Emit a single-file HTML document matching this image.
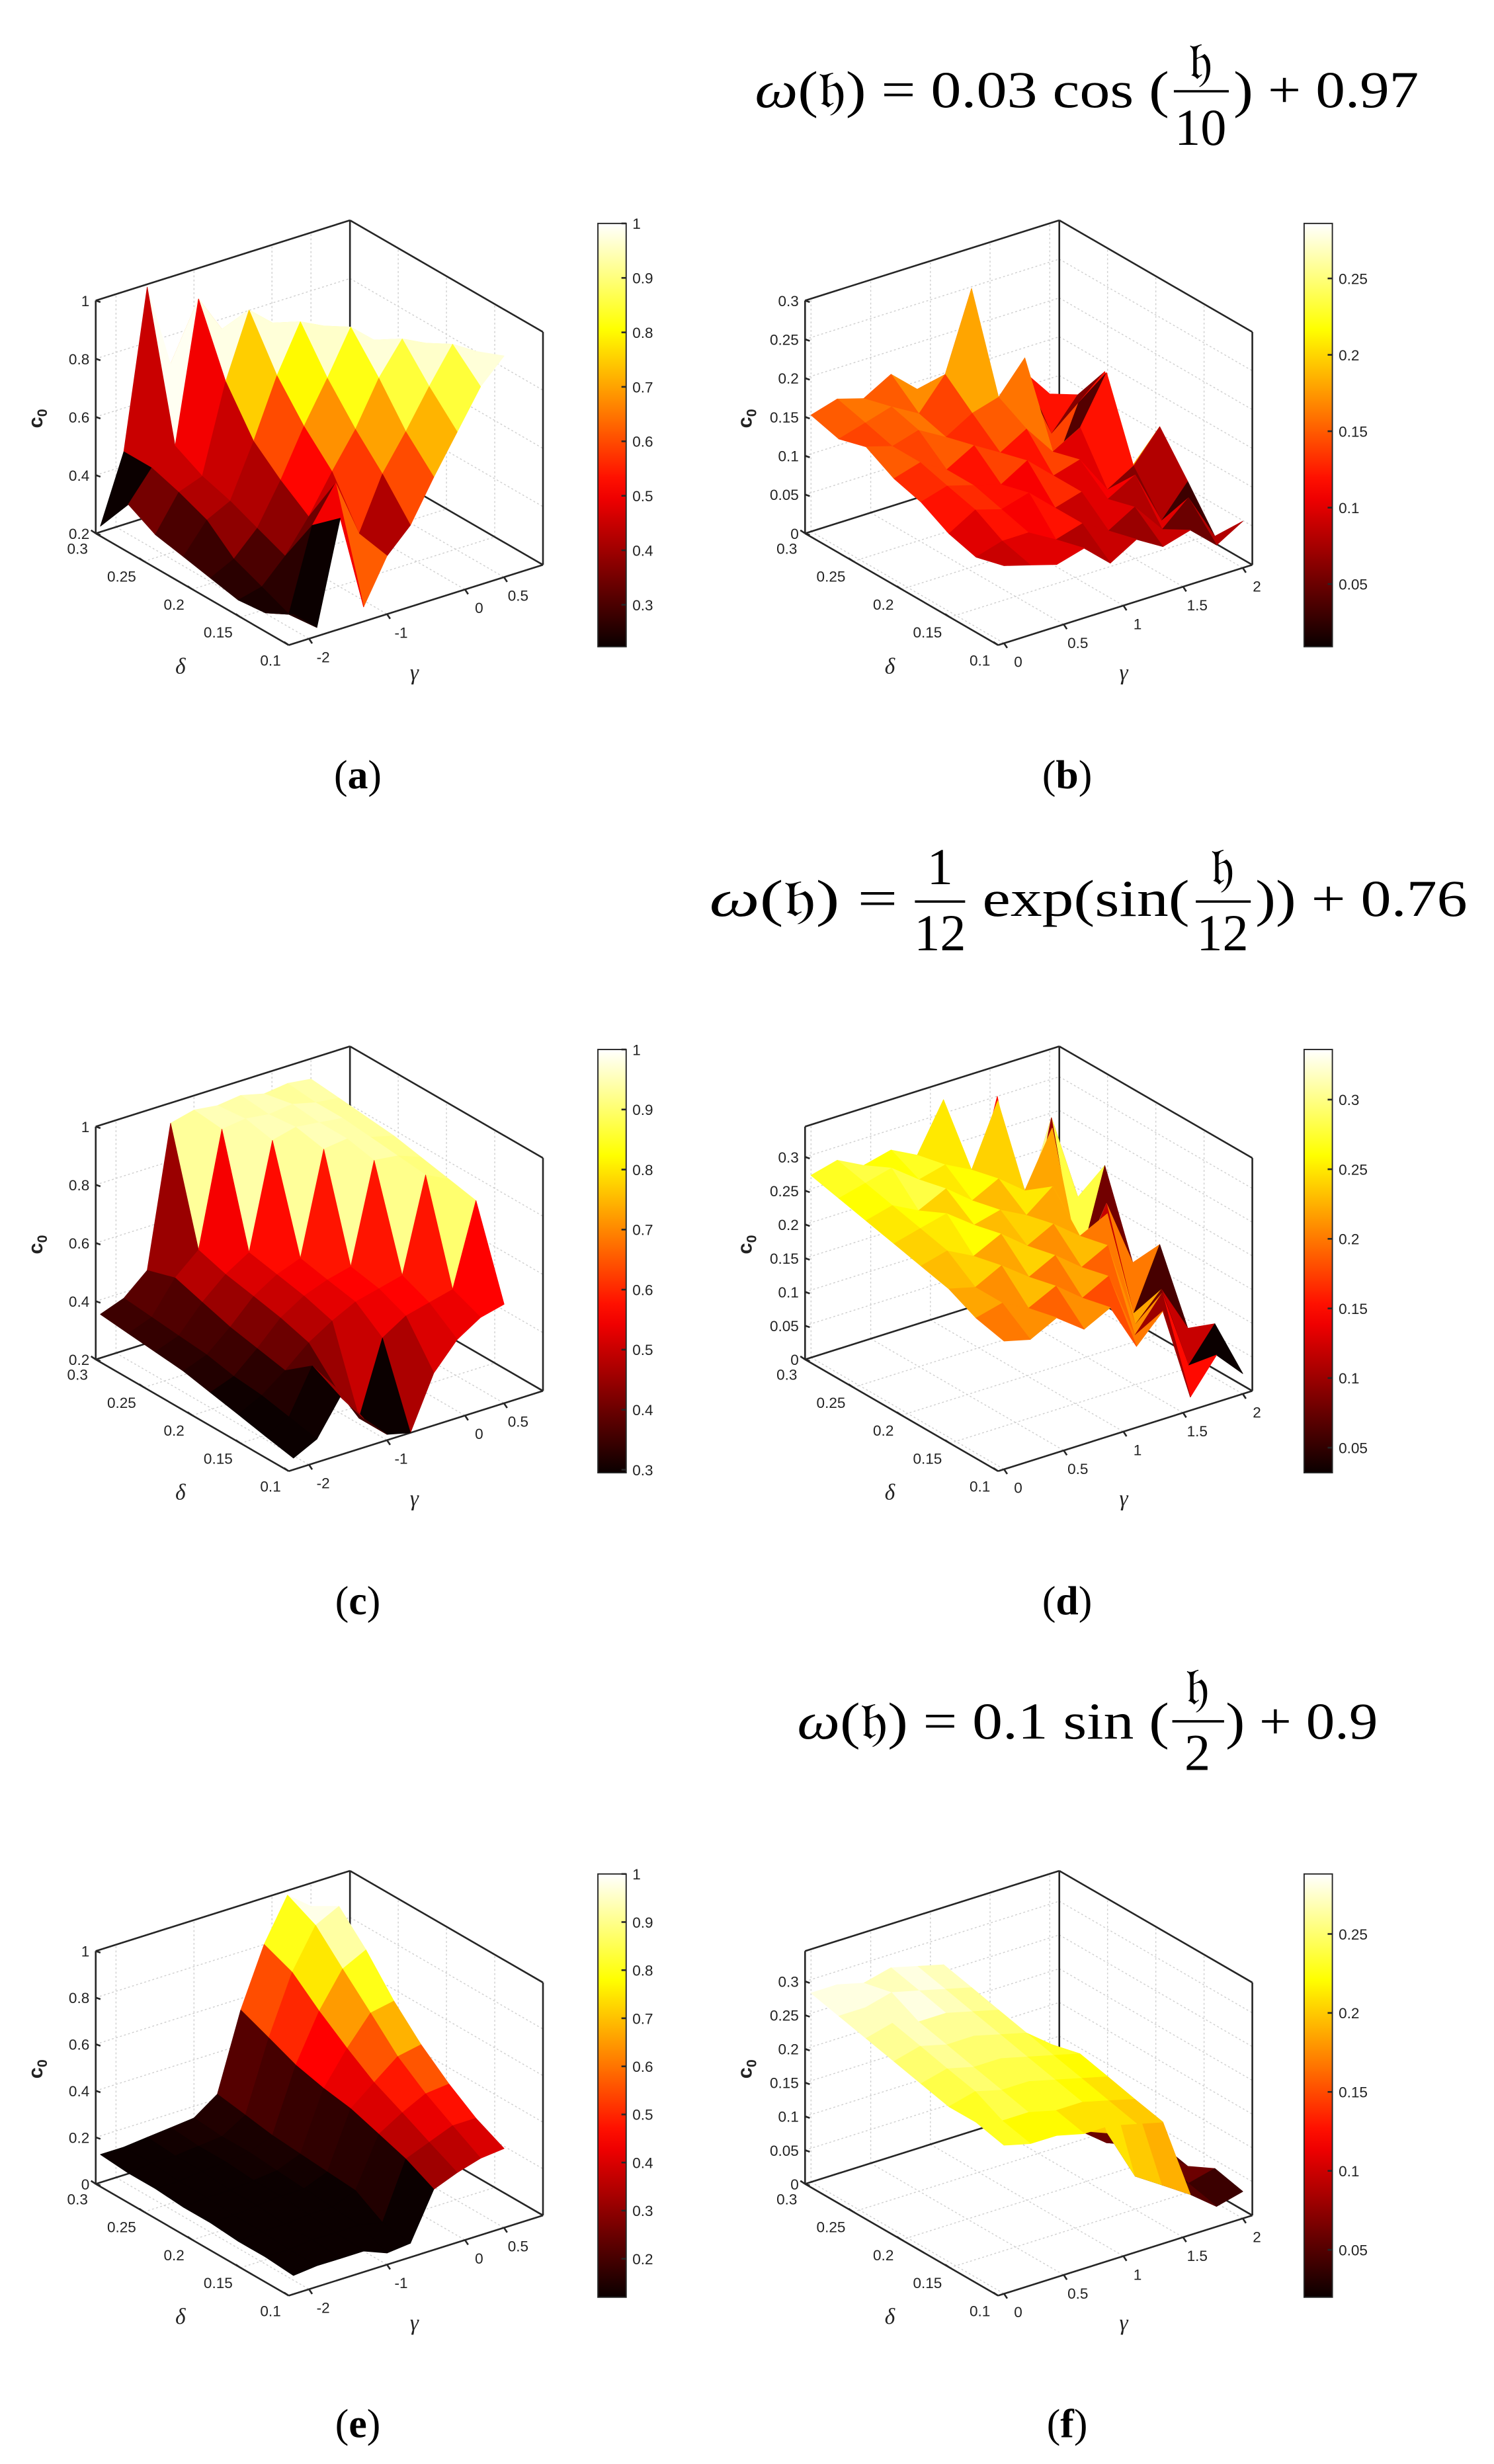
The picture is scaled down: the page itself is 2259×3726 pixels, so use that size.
<!DOCTYPE html>
<html><head><meta charset="utf-8"><style>
html,body{margin:0;padding:0;background:#fff;}
svg{display:block;}
.t{font-family:"Liberation Serif","DejaVu Serif",serif;font-size:33px;fill:#000;}
.tk{font-family:"Liberation Sans",sans-serif;font-size:9.5px;fill:#222;}
.ax{font-family:"Liberation Serif",serif;font-style:italic;font-size:14px;fill:#222;}
.cl{font-family:"Liberation Sans",sans-serif;font-weight:bold;font-size:13px;fill:#222;}
.lab{font-family:"Liberation Serif",serif;font-size:26px;fill:#000;}
</style></head><body>
<svg id="fig" xmlns="http://www.w3.org/2000/svg" width="2259" height="3726" viewBox="0 0 952 1566" preserveAspectRatio="none">
<rect x="0" y="0" width="952" height="1566" fill="#fff"/>
<g>
<text class="t" x="481" y="68" textLength="264" lengthAdjust="spacingAndGlyphs"><tspan font-style="italic">ω</tspan>(𝔥) = 0.03 cos (</text>
<text class="t" x="765" y="50" text-anchor="middle">𝔥</text>
<line x1="748" y1="58" x2="783" y2="58" stroke="#000" stroke-width="1.5"/>
<text class="t" x="765" y="92" text-anchor="middle">10</text>
<text class="t" x="786" y="68" textLength="118" lengthAdjust="spacingAndGlyphs">) + 0.97</text>
</g>
<g>
<text class="t" x="452" y="582" textLength="120" lengthAdjust="spacingAndGlyphs"><tspan font-style="italic">ω</tspan>(𝔥) =</text>
<text class="t" x="599" y="562" text-anchor="middle">1</text>
<line x1="583" y1="573" x2="615" y2="573" stroke="#000" stroke-width="1.5"/>
<text class="t" x="599" y="604" text-anchor="middle">12</text>
<text class="t" x="626" y="582" textLength="132" lengthAdjust="spacingAndGlyphs">exp(sin(</text>
<text class="t" x="779" y="562" text-anchor="middle">𝔥</text>
<line x1="762" y1="573" x2="797" y2="573" stroke="#000" stroke-width="1.5"/>
<text class="t" x="779" y="604" text-anchor="middle">12</text>
<text class="t" x="800" y="582" textLength="135" lengthAdjust="spacingAndGlyphs">)) + 0.76</text>
</g>
<g>
<text class="t" x="508" y="1105" textLength="237" lengthAdjust="spacingAndGlyphs"><tspan font-style="italic">ω</tspan>(𝔥) = 0.1 sin (</text>
<text class="t" x="763" y="1083" text-anchor="middle">𝔥</text>
<line x1="747" y1="1094" x2="780" y2="1094" stroke="#000" stroke-width="1.5"/>
<text class="t" x="763" y="1125" text-anchor="middle">2</text>
<text class="t" x="781" y="1105" textLength="97" lengthAdjust="spacingAndGlyphs">) + 0.9</text>
</g>
<text class="lab" x="228" y="501" text-anchor="middle">(<tspan font-weight="bold">a</tspan>)</text>
<text class="lab" x="680" y="501" text-anchor="middle">(<tspan font-weight="bold">b</tspan>)</text>
<text class="lab" x="228" y="1026" text-anchor="middle">(<tspan font-weight="bold">c</tspan>)</text>
<text class="lab" x="680" y="1026" text-anchor="middle">(<tspan font-weight="bold">d</tspan>)</text>
<text class="lab" x="228" y="1549" text-anchor="middle">(<tspan font-weight="bold">e</tspan>)</text>
<text class="lab" x="680" y="1549" text-anchor="middle">(<tspan font-weight="bold">f</tspan>)</text>
</svg>
<script>
const gammaNeg=[-2.2,-1.9,-1.6,-1.3,-1.0,-0.7,-0.4,-0.1,0.2,0.5];
const gammaPos=[0,0.22,0.44,0.67,0.89,1.11,1.33,1.56,1.78,2.0];
const deltaVals=[0.3,0.271,0.243,0.214,0.186,0.157,0.129,0.1];
const deltaTicks=[0.3,0.25,0.2,0.15,0.1];
const gammaTicksNeg=[-2,-1,0,0.5];
const gammaTicksPos=[0,0.5,1,1.5,2];
const zTicksA=[0.2,0.4,0.6,0.8,1];
const zTicksB=[0,0.05,0.1,0.15,0.2,0.25,0.3];
const zTicksE=[0,0.2,0.4,0.6,0.8,1];
const cTicksA=[0.3,0.4,0.5,0.6,0.7,0.8,0.9,1];
const cTicksB=[0.05,0.1,0.15,0.2,0.25];
const cTicksC=[0.3,0.4,0.5,0.6,0.7,0.8,0.9,1];
const cTicksD=[0.05,0.1,0.15,0.2,0.25,0.3];
const cTicksE=[0.2,0.3,0.4,0.5,0.6,0.7,0.8,0.9,1];
const cTicksF=[0.05,0.1,0.15,0.2,0.25];
const zA=[
[0.22,0.45,0.99,0.70,0.55,0.45,0.40,0.38,0.36,0.35],
[0.35,0.45,0.50,0.98,0.85,0.65,0.50,0.45,0.42,0.40],
[0.30,0.42,0.45,0.75,0.97,0.90,0.70,0.55,0.48,0.45],
[0.28,0.38,0.42,0.60,0.80,0.96,0.92,0.72,0.58,0.50],
[0.26,0.30,0.38,0.52,0.68,0.82,0.97,0.90,0.75,0.60],
[0.24,0.26,0.34,0.45,0.58,0.70,0.85,0.96,0.92,0.78],
[0.25,0.22,0.50,0.62,0.42,0.60,0.72,0.85,0.97,0.92],
[0.30,0.23,0.58,0.25,0.40,0.48,0.62,0.75,0.88,0.96]];
const zB=[
[0.15,0.16,0.15,0.17,0.14,0.12,0.10,0.05,0.12,0.08],
[0.14,0.15,0.16,0.14,0.18,0.28,0.08,0.14,0.06,0.10],
[0.15,0.14,0.15,0.13,0.15,0.16,0.20,0.04,0.12,0.15],
[0.13,0.14,0.12,0.14,0.12,0.14,0.10,0.12,0.18,0.05],
[0.12,0.13,0.12,0.11,0.13,0.10,0.11,0.06,0.08,0.12],
[0.10,0.12,0.11,0.12,0.09,0.10,0.08,0.10,0.03,0.07],
[0.09,0.10,0.10,0.08,0.09,0.07,0.09,0.05,0.08,0.02],
[0.10,0.09,0.08,0.09,0.06,0.08,0.06,0.07,0.04,0.06]];
const zC=[
[0.35,0.38,0.45,0.93,0.95,0.94,0.95,0.93,0.94,0.93],
[0.34,0.37,0.48,0.55,0.94,0.95,0.94,0.95,0.93,0.92],
[0.33,0.36,0.45,0.52,0.57,0.93,0.95,0.94,0.93,0.91],
[0.32,0.35,0.42,0.50,0.55,0.58,0.93,0.94,0.92,0.90],
[0.30,0.33,0.40,0.48,0.53,0.56,0.58,0.92,0.91,0.88],
[0.28,0.32,0.38,0.45,0.50,0.54,0.56,0.58,0.90,0.86],
[0.26,0.30,0.45,0.35,0.22,0.47,0.52,0.54,0.56,0.84],
[0.24,0.28,0.40,0.30,0.22,0.20,0.38,0.47,0.52,0.54]];
const zD=[
[0.27,0.28,0.26,0.27,0.25,0.32,0.15,0.30,0.12,0.20],
[0.26,0.27,0.28,0.25,0.26,0.24,0.33,0.10,0.28,0.15],
[0.25,0.26,0.24,0.26,0.23,0.25,0.22,0.30,0.08,0.22],
[0.24,0.25,0.26,0.23,0.24,0.22,0.25,0.12,0.20,0.10],
[0.23,0.24,0.22,0.24,0.21,0.23,0.20,0.22,0.06,0.15],
[0.22,0.21,0.23,0.20,0.22,0.19,0.21,0.08,0.12,0.05],
[0.20,0.21,0.19,0.21,0.18,0.20,0.10,0.15,0.03,0.08],
[0.19,0.18,0.20,0.17,0.19,0.12,0.16,0.02,0.07,0.03]];
const zE=[
[0.12,0.12,0.13,0.14,0.15,0.22,0.55,0.80,0.98,0.90],
[0.11,0.12,0.12,0.13,0.14,0.20,0.50,0.75,0.92,0.97],
[0.11,0.11,0.12,0.13,0.14,0.18,0.45,0.65,0.80,0.85],
[0.10,0.11,0.11,0.12,0.13,0.17,0.42,0.56,0.68,0.70],
[0.10,0.10,0.11,0.12,0.12,0.16,0.40,0.48,0.56,0.58],
[0.09,0.10,0.10,0.11,0.11,0.15,0.36,0.42,0.47,0.48],
[0.09,0.09,0.10,0.10,0.10,0.08,0.32,0.36,0.40,0.40],
[0.08,0.09,0.09,0.09,0.05,0.06,0.26,0.30,0.33,0.34]];
const zF=[
[0.28,0.28,0.27,0.28,0.27,0.26,0.10,0.12,0.06,0.05],
[0.27,0.27,0.28,0.27,0.26,0.25,0.14,0.08,0.10,0.04],
[0.26,0.27,0.26,0.26,0.25,0.24,0.18,0.05,0.07,0.06],
[0.25,0.26,0.25,0.25,0.24,0.23,0.20,0.06,0.03,0.05],
[0.24,0.25,0.24,0.24,0.23,0.22,0.21,0.08,0.05,0.04],
[0.23,0.24,0.23,0.23,0.22,0.21,0.20,0.04,0.06,0.03],
[0.23,0.22,0.22,0.21,0.21,0.20,0.19,0.05,0.04,0.05],
[0.22,0.21,0.21,0.20,0.20,0.19,0.18,0.06,0.03,0.04]];

const NS='http://www.w3.org/2000/svg';
const svg=document.getElementById('fig');
function mk(tag,attrs,parent){const e=document.createElementNS(NS,tag);for(const k in attrs)e.setAttribute(k,attrs[k]);(parent||svg).appendChild(e);return e;}
function hot(t){t=Math.max(0,Math.min(1,t));
 const r=Math.min(1,0.0417+t/0.375*0.9583),g=Math.max(0,Math.min(1,(t-0.375)/0.375)),b=Math.max(0,Math.min(1,(t-0.75)/0.25));
 return 'rgb('+Math.round(r*255)+','+Math.round(g*255)+','+Math.round(b*255)+')';}
const fmt=v=>String(v);

const panels=[
 {id:'a',ox:0,oy:0,z:zA,g:gammaNeg,gd:[-2.26,1.0],gt:gammaTicksNeg,zd:[0.2,1],zt:zTicksA,cd:[0.223,1],ct:cTicksA},
 {id:'b',ox:452,oy:0,z:zB,g:gammaPos,gd:[-0.05,2.08],gt:gammaTicksPos,zd:[0,0.3],zt:zTicksB,cd:[0.009,0.286],ct:cTicksB},
 {id:'c',ox:0,oy:525,z:zC,g:gammaNeg,gd:[-2.26,1.0],gt:gammaTicksNeg,zd:[0.2,1],zt:zTicksA,cd:[0.295,1],ct:cTicksC},
 {id:'d',ox:452,oy:525,z:zD,g:gammaPos,gd:[-0.05,2.08],gt:gammaTicksPos,zd:[0,0.345],zt:zTicksB,cd:[0.032,0.336],ct:cTicksD},
 {id:'e',ox:0,oy:1049,z:zE,g:gammaNeg,gd:[-2.26,1.0],gt:gammaTicksNeg,zd:[0,1],zt:zTicksE,cd:[0.12,1],ct:cTicksE},
 {id:'f',ox:452,oy:1049,z:zF,g:gammaPos,gd:[-0.05,2.08],gt:gammaTicksPos,zd:[0,0.345],zt:zTicksB,cd:[0.02,0.288],ct:cTicksF}
];

panels.forEach(p=>{
 const G=mk('g',{});
 
 
 const uS=g=>(g-p.gd[0])/(p.gd[1]-p.gd[0]);
 const vS=d=>(0.3-d)/0.2;
 const wS=z=>Math.max(0,(z-p.zd[0])/(p.zd[1]-p.zd[0]));
 const P=(u,v,w)=>[p.ox+61+162*u+123*v, p.oy+339-51*u+71*v-148*w];
 const line=(a,b,st,parent,name)=>{const l=mk('line',{x1:a[0],y1:a[1],x2:b[0],y2:b[1],stroke:st.c,'stroke-width':st.w},parent);if(st.d)l.setAttribute('stroke-dasharray',st.d);return l;};
 const grid={c:'#cfcfcf',w:0.6,d:'1.2,1.5'};
 const GG=mk('g',{},G);
 
 
 p.zt.forEach(z=>{const w=wS(z);line(P(0,0,w),P(1,0,w),grid,GG,'grid-line');line(P(1,0,w),P(1,1,w),grid,GG,'grid-line');});
 p.gt.forEach(g=>{const u=uS(g);line(P(u,0,0),P(u,1,0),grid,GG,'grid-line');line(P(u,0,0),P(u,0,1),grid,GG,'grid-line');});
 deltaTicks.forEach(d=>{const v=vS(d);line(P(0,v,0),P(1,v,0),grid,GG,'grid-line');line(P(1,v,0),P(1,v,1),grid,GG,'grid-line');});
 const bx={c:'#262626',w:1.1};
 const BX=mk('g',{},G);
 
 
 [[[0,0,0],[0,0,1]],[[0,0,1],[1,0,1]],[[1,0,1],[1,1,1]],[[1,0,0],[1,0,1]],[[1,1,0],[1,1,1]],
  [[0,0,0],[1,0,0]],[[1,0,0],[1,1,0]],[[0,0,0],[0,1,0]],[[0,1,0],[1,1,0]]].forEach(e=>line(P(...e[0]),P(...e[1]),bx,BX,'box-edge'));
 const S=mk('g',{},G);
 
 
 const faces=[];
 const Z=p.z,nj=Z.length,ni=Z[0].length;
 for(let j=0;j<nj-1;j++)for(let i=0;i<ni-1;i++){
  const us=[uS(p.g[i]),uS(p.g[i+1])],vs=[vS(deltaVals[j]),vS(deltaVals[j+1])];
  const pts=[P(us[0],vs[0],wS(Z[j][i])),P(us[1],vs[0],wS(Z[j][i+1])),P(us[1],vs[1],wS(Z[j+1][i+1])),P(us[0],vs[1],wS(Z[j+1][i]))];
  const uc=(us[0]+us[1])/2,vc=(vs[0]+vs[1])/2;
  faces.push({key:-51*uc+71*vc,pts,c:hot((Z[j][i]-p.cd[0])/(p.cd[1]-p.cd[0]))});
 }
 faces.sort((a,b)=>a.key-b.key);
 faces.forEach(f=>{
  const el=mk('polygon',{points:f.pts.map(q=>q[0].toFixed(1)+','+q[1].toFixed(1)).join(' '),fill:f.c,stroke:f.c,'stroke-width':0.4,'stroke-linejoin':'round'},S);
  
  
 });
 p.zt.forEach(z=>{const q=P(0,0,wS(z));
  const t=mk('text',{x:q[0]-4,y:q[1]+3.5,'text-anchor':'end',class:'tk'},G);t.textContent=fmt(z);
  
  
  line(q,[q[0]+3,q[1]+1],bx,G,'z-tick');});
 deltaTicks.forEach(d=>{const q=P(0,vS(d),0);
  const t=mk('text',{x:q[0]-5,y:q[1]+13,'text-anchor':'end',class:'tk'},G);t.textContent=fmt(d);
  
  
  line(q,[q[0]-3,q[1]-2],bx,G,'delta-tick');});
 p.gt.forEach(g=>{const q=P(uS(g),1,0);
  const t=mk('text',{x:q[0]+9,y:q[1]+15,'text-anchor':'middle',class:'tk'},G);t.textContent=fmt(g);
  
  
  line(q,[q[0]+2,q[1]+3],bx,G,'gamma-tick');});
 const dl=mk('text',{x:p.ox+115,y:p.oy+428,'text-anchor':'middle',class:'ax'},G);dl.textContent='δ';
 
 
 const gl=mk('text',{x:p.ox+264,y:p.oy+432,'text-anchor':'middle',class:'ax'},G);gl.textContent='γ';
 
 
 const cz=mk('text',{x:0,y:0,class:'cl',transform:'translate('+(p.ox+27)+','+(p.oy+266)+') rotate(-90)','text-anchor':'middle'},G);
 cz.innerHTML='c<tspan font-size="9" dy="3">0</tspan>';
 
 
 const cx=p.ox+(p.id==='a'||p.id==='c'||p.id==='e'?381:379),cy0=p.oy+142,cy1=p.oy+411,cw=18;
 const CB=mk('g',{},G);
 
 
 const gid='cg'+p.id;
 const defs=mk('defs',{},CB);
 const lg=mk('linearGradient',{id:gid,x1:0,y1:1,x2:0,y2:0},defs);
 for(let k=0;k<=20;k++){mk('stop',{offset:k/20,'stop-color':hot(k/20)},lg);}
 const r=mk('rect',{x:cx,y:cy0,width:cw,height:cy1-cy0,fill:'url(#'+gid+')',stroke:'#262626','stroke-width':0.8},CB);
 
 
 p.ct.forEach(c=>{const y=cy1-(c-p.cd[0])/(p.cd[1]-p.cd[0])*(cy1-cy0);
  line([cx+cw-3,y],[cx+cw,y],bx,CB,'colorbar-tick');
  const t=mk('text',{x:cx+cw+4,y:y+3.5,class:'tk'},CB);t.textContent=fmt(c);
  
  });
});
</script>
</body></html>
